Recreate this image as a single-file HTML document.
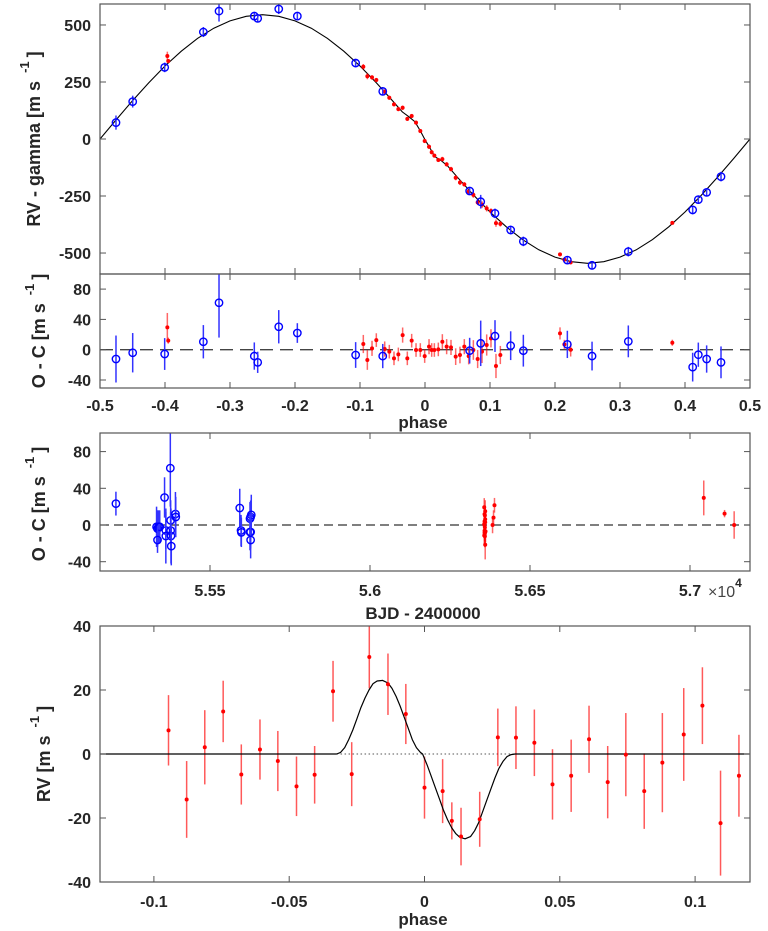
<!DOCTYPE html>
<html><head><meta charset="utf-8">
<style>
html,body{margin:0;padding:0;background:#fff;}
svg{display:block;font-family:"Liberation Sans",Arial,sans-serif;}
.tk{font-size:16px;font-weight:bold;fill:#262626;}
.lb{font-size:17px;font-weight:bold;fill:#262626;}
.yl{font-size:18px;font-weight:bold;fill:#262626;}
</style></head>
<body>
<svg id="fig" width="768" height="931" viewBox="0 0 768 931" xmlns="http://www.w3.org/2000/svg"></svg>
<script>
// ---------- Panel 1/2 data (phase-folded) ----------
const bluePhase = [-0.4754,-0.4497,-0.4005,-0.341,-0.3169,-0.2626,-0.2574,-0.225,-0.1964,-0.1067,-0.065,0.0687,0.0857,0.1077,0.1318,0.1513,0.219,0.257,0.3128,0.4118,0.4205,0.4333,0.4554];
const blueRv = [72,164,314,469,561,539,529,570,539,333,209,-228,-275,-326,-399,-449,-531,-554,-494,-311,-266,-234,-165];
const blueRes = [-12.3,-4,-5.7,10.5,62,-8.4,-16.7,30.3,22,-7,-8.4,-1.3,8.4,18,5.3,-1.3,7,-8.4,11,-23,-6.6,-12.3,-16.7];
const blueErr = [31,26,21,22,46,18,14,22,13,17,16,17,30,21,19,21,18,19,21,19,16,18,21];

const redPhase = [-0.3964,-0.395,-0.0949,-0.0887,-0.0815,-0.0749,-0.062,-0.0549,-0.0477,-0.041,-0.0344,-0.0272,-0.0205,-0.0138,-0.0072,-0.0005,0.0062,0.0103,0.0144,0.0205,0.0267,0.0333,0.04,0.0472,0.0538,0.0605,0.0672,0.0744,0.081,0.0877,0.0949,0.1015,0.1092,0.1159,0.2077,0.2144,0.2241,0.3805];
const redRv = [364,342,317,275,270,259,208,181,152,131,137,88,101,72,35,-9,-34,-58,-73,-92,-88,-111,-132,-170,-191,-199,-231,-245,-278,-288,-304,-316,-369,-372,-506,-529,-541,-368];
const redRes = [29.5,12,7.5,-13.6,1.8,12.7,0.9,-2.6,-11.4,-6.2,19.3,-11.4,11.9,-0.4,-0.4,-8.4,4,-0.4,-0.4,0.4,10.5,4,3,-9.2,-7,4,-8.4,-0.4,-12.3,-2.6,6.2,15,-21.5,-7,21.5,7,0,9.2];
const redErr = [19,4,12,13,10,9,10,9,9,9,10,9,9,9,9,9,10,9,9,9,10,10,10,11,11,10,11,13,12,15,14,12,16,12,8,6,9,4];

const modelPhase1 = [-0.5,-0.475,-0.45,-0.425,-0.4,-0.375,-0.35,-0.325,-0.3,-0.275,-0.25,-0.225,-0.2,-0.175,-0.15,-0.125,-0.1,-0.075,-0.05,-0.035,-0.025,-0.0155,-0.007,0,0.007,0.015,0.025,0.035,0.05,0.075,0.1,0.125,0.15,0.175,0.2,0.225,0.25,0.275,0.3,0.325,0.35,0.375,0.4,0.425,0.45,0.475,0.5];
const modelRv1 = [0,85,168,247,320,385,441,486,518,538,545,538,518,486,441,385,320,247,168,119,98,76,35,-3,-37,-77,-95,-119,-168,-247,-320,-385,-441,-486,-518,-538,-545,-538,-518,-486,-441,-385,-320,-247,-168,-85,0];

const phaseTicks = [-0.5,-0.4,-0.3,-0.2,-0.1,0,0.1,0.2,0.3,0.4,0.5];
const phaseTickLabels = ['-0.5','-0.4','-0.3','-0.2','-0.1','0','0.1','0.2','0.3','0.4','0.5'];
const rvTicks = [500,250,0,-250,-500];
const ocTicks = [80,40,0,-40];

// ---------- Panel 3 data (vs BJD, units of 1e4) ----------
const bjdBlue = [5.5206,5.5333,5.5336,5.5339,5.5343,5.5336,5.5358,5.5362,5.5362,5.5376,5.5377,5.5377,5.5378,5.5379,5.5392,5.5393,5.5593,5.5597,5.5598,5.5625,5.5627,5.5629,5.5625,5.5627,5.5627];
const resBlue3 = [23.3,-2,-4,-2,-2,-16.4,30,-6,-12,62,5,-6,-12,-23,12,8.7,18.5,-6,-8,7,8.7,11,-7.6,-7.6,-16.4];
const errBlue3 = [13,22,20,18,18,14,22,20,30,42,22,20,30,21,24,22,21,17,16,18,18,22,20,18,20];
const bjdRed = [5.6357,5.6357,5.6358,5.6358,5.6358,5.6359,5.6359,5.6359,5.6360,5.6360,5.6360,5.6357,5.6358,5.6359,5.6360,5.6358,5.6361,5.6383,5.6386,5.6389,5.7043,5.7108,5.7138];
const resRed3 = [19.3,-11.4,11.9,-8.4,4,10.5,-9.2,-12.3,15,-21.5,6.2,0.9,-6.2,-2.6,3,-0.4,-7,0,8,21.5,29.5,12.4,0];
const errRed3 = [10,9,9,9,10,10,11,12,12,16,14,10,9,9,10,9,12,9,8,8,19,4,15];
const bjdTicks = [5.55,5.6,5.65,5.7];
const bjdTickLabels = ['5.55','5.6','5.65','5.7'];

// ---------- Panel 4 data (RM zoom) ----------
const rmPhase = [-0.0946,-0.0879,-0.0812,-0.0744,-0.0677,-0.0608,-0.0542,-0.0473,-0.0406,-0.0338,-0.0269,-0.0204,-0.0135,-0.0069,0.0,0.0067,0.0101,0.0135,0.0204,0.0271,0.0338,0.0406,0.0473,0.0542,0.0608,0.0677,0.0744,0.0812,0.0879,0.0958,0.1027,0.1094,0.1162];
const rmRv = [7.4,-14.2,2.1,13.3,-6.4,1.4,-2.2,-10.1,-6.5,19.6,-6.3,30.3,21.8,12.5,-10.5,-11.6,-20.9,-25.8,-20.4,5.2,5.1,3.5,-9.5,-6.8,4.6,-8.8,-0.2,-11.6,-2.7,6.1,15.1,-21.6,-6.8];
const rmErr = [11,12,11.6,9.6,9.4,9.4,9.4,9.3,9,9.5,10,9.8,9.6,9.4,9.7,10,5.8,9,8.6,9,9.8,10.4,11,11.3,10.5,11.3,13,11.8,15.5,14.5,12,16.4,12.8];
const rmModelPhase = [-0.12,-0.0325,-0.031,-0.0295,-0.028,-0.0265,-0.025,-0.0235,-0.022,-0.0205,-0.019,-0.0175,-0.0155,-0.0135,-0.012,-0.0105,-0.009,-0.0075,-0.006,-0.0045,-0.003,-0.0015,-0.0007,0.001,0.0025,0.004,0.0055,0.007,0.0085,0.01,0.0115,0.013,0.015,0.017,0.0185,0.02,0.0215,0.023,0.0245,0.026,0.0275,0.029,0.0305,0.032,0.0335,0.12];
const rmModelRv = [0,0,0.5,2,4.5,7.5,11,14.5,17.5,20,22,22.8,23,22.2,20.5,18,15,11.5,8,4.5,2,0.5,0,-3.5,-7,-10.5,-14,-17.5,-20.5,-23,-24.8,-26,-26.5,-25.8,-24,-21.5,-18,-14.5,-11,-7.5,-4.5,-2.3,-0.8,-0.2,0,0];
const rmTicksX = [-0.1,-0.05,0,0.05,0.1];
const rmTickLabelsX = ['-0.1','-0.05','0','0.05','0.1'];
const rmTicksY = [40,20,0,-20,-40];

// ---------- scales ----------
const L = 100, R = 750;
function x1(p){ return L + (p + 0.5) * 650; }
function y1(v){ return 139 - v * (135 / 592); }
function y2(r){ return 349.7 - r * 0.7575; }
function x3(b){ return 210 + (b - 5.55) * 3200; }
function y3(r){ return 525 - r * 0.9175; }
function x4(p){ return 424.5 + p * 2706; }
function y4(v){ return 754 - v * 3.2; }

const NS = 'http://www.w3.org/2000/svg';
const svg = document.getElementById('fig');
function mk(tag, attrs, parent){
  const e = document.createElementNS(NS, tag);
  for (const k in attrs) e.setAttribute(k, attrs[k]);
  (parent || svg).appendChild(e);
  return e;
}
function group(name){
  const g = mk('g', {});
  
  
  return g;
}
function txt(g, x, y, s, cls, anchor, name){
  const t = mk('text', {x: x, y: y, 'class': cls, 'text-anchor': anchor || 'middle'}, g);
  t.textContent = s;
  
  
  return t;
}
function box(g, top, bot, name){
  const r = mk('rect', {x: L, y: top, width: R - L, height: bot - top, fill: 'none', stroke: '#555', 'stroke-width': 1.2}, g);
  
  
}
function xtick(g, x, top, bot){
  const a = mk('line', {x1: x, x2: x, y1: bot, y2: bot - 6, stroke: '#555', 'stroke-width': 1}, g);
  
  
  const b = mk('line', {x1: x, x2: x, y1: top, y2: top + 6, stroke: '#555', 'stroke-width': 1}, g);
  
  
}
function ytick(g, y){
  const a = mk('line', {x1: L, x2: L + 6, y1: y, y2: y, stroke: '#555', 'stroke-width': 1}, g);
  
  
  const b = mk('line', {x1: R, x2: R - 6, y1: y, y2: y, stroke: '#555', 'stroke-width': 1}, g);
  
  
}
function ylabel(g, cx, cy, main, name){
  const t = mk('text', {x: 0, y: 0, 'class': 'yl', 'text-anchor': 'middle', transform: 'translate(' + cx + ',' + cy + ') rotate(-90)'}, g);
  
  
  const a = mk('tspan', {}, t); a.textContent = main;
  const b = mk('tspan', {dx: 8, dy: -11, 'font-size': '13'}, t); b.textContent = '-1';
  const c = mk('tspan', {dx: 4, dy: 11}, t); c.textContent = ']';
}
function errbar(g, x, ya, yb, color, name){
  const l = mk('line', {x1: x, x2: x, y1: ya, y2: yb, stroke: color, 'stroke-width': 1.5}, g);
  
  
}
function circ(g, x, y, name){
  const c = mk('circle', {cx: x, cy: y, r: 3.7, fill: 'none', stroke: '#0000ff', 'stroke-width': 1.4}, g);
  
  
}
function dot(g, x, y, name){
  const c = mk('circle', {cx: x, cy: y, r: 2, fill: '#ff0000'}, g);
  
  
}
function clipRect(id, top, bot){
  const cp = mk('clipPath', {id: id});
  mk('rect', {x: L, y: top, width: R - L, height: bot - top}, cp);
}
clipRect('c1', 4, 274); clipRect('c2', 274, 388); clipRect('c3', 433, 571); clipRect('c4', 626, 882);

// ---------- Panel 1 ----------
const g1 = group('rv-phase-panel');
const g1d = mk('g', {'clip-path': 'url(#c1)'}, g1);


let d = '';
modelPhase1.forEach((p, i) => { d += (i ? 'L' : 'M') + x1(p).toFixed(1) + ',' + y1(modelRv1[i]).toFixed(1); });
const m1 = mk('path', {d: d, fill: 'none', stroke: '#000', 'stroke-width': 1.1}, g1d);


redPhase.forEach((p, i) => {
  errbar(g1d, x1(p), y1(redRv[i] + redErr[i]), y1(redRv[i] - redErr[i]), 'rgba(255,0,0,0.6)', 'red-rv-errorbar');
  dot(g1d, x1(p), y1(redRv[i]), 'red-rv-point');
});
bluePhase.forEach((p, i) => {
  errbar(g1d, x1(p), y1(blueRv[i] + blueErr[i]), y1(blueRv[i] - blueErr[i]), '#3333ff', 'blue-rv-errorbar');
  circ(g1d, x1(p), y1(blueRv[i]), 'blue-rv-point');
});
box(g1, 4, 274, 'rv-phase-axes-box');
phaseTicks.forEach(p => xtick(g1, x1(p), 4, 274));
rvTicks.forEach((v, i) => { ytick(g1, y1(v)); txt(g1, 91, y1(v) + 6, String(v), 'tk', 'end', 'rv-y-tick-label'); });
ylabel(g1, 40, 139, 'RV - gamma [m s', 'rv-y-axis-title');

// ---------- Panel 2 ----------
const g2 = group('residual-phase-panel');
const g2d = mk('g', {'clip-path': 'url(#c2)'}, g2);


const z2 = mk('line', {x1: L, x2: R, y1: y2(0), y2: y2(0), stroke: '#444', 'stroke-width': 1.3, 'stroke-dasharray': '13,7'}, g2d);


redPhase.forEach((p, i) => {
  errbar(g2d, x1(p), y2(redRes[i] + redErr[i]), y2(redRes[i] - redErr[i]), 'rgba(255,0,0,0.6)', 'red-residual-errorbar');
  dot(g2d, x1(p), y2(redRes[i]), 'red-residual-point');
});
bluePhase.forEach((p, i) => {
  errbar(g2d, x1(p), y2(blueRes[i] + blueErr[i]), y2(blueRes[i] - blueErr[i]), '#3333ff', 'blue-residual-errorbar');
  circ(g2d, x1(p), y2(blueRes[i]), 'blue-residual-point');
});
box(g2, 274, 388, 'residual-phase-axes-box');
phaseTicks.forEach((p, i) => { xtick(g2, x1(p), 274, 388); txt(g2, x1(p), 411, phaseTickLabels[i], 'tk', 'middle', 'phase-x-tick-label'); });
ocTicks.forEach(v => { ytick(g2, y2(v)); txt(g2, 91, y2(v) + 6, String(v), 'tk', 'end', 'oc-y-tick-label'); });
txt(g2, 423, 428, 'phase', 'lb', 'middle', 'phase-x-axis-title');
ylabel(g2, 45, 331, 'O - C [m s', 'oc-y-axis-title');

// ---------- Panel 3 ----------
const g3 = group('residual-time-panel');
const g3d = mk('g', {'clip-path': 'url(#c3)'}, g3);


const z3 = mk('line', {x1: L, x2: R, y1: y3(0), y2: y3(0), stroke: '#333', 'stroke-width': 1.3, 'stroke-dasharray': '9,5'}, g3d);


bjdRed.forEach((b, i) => {
  errbar(g3d, x3(b), y3(resRed3[i] + errRed3[i]), y3(resRed3[i] - errRed3[i]), 'rgba(255,0,0,0.6)', 'red-time-errorbar');
  dot(g3d, x3(b), y3(resRed3[i]), 'red-time-point');
});
bjdBlue.forEach((b, i) => {
  errbar(g3d, x3(b), y3(resBlue3[i] + errBlue3[i]), y3(resBlue3[i] - errBlue3[i]), '#3333ff', 'blue-time-errorbar');
  circ(g3d, x3(b), y3(resBlue3[i]), 'blue-time-point');
});
box(g3, 433, 571, 'residual-time-axes-box');
bjdTicks.forEach((b, i) => { xtick(g3, x3(b), 433, 571); txt(g3, x3(b), 596, bjdTickLabels[i], 'tk', 'middle', 'bjd-x-tick-label'); });
ocTicks.forEach(v => { ytick(g3, y3(v)); txt(g3, 91, y3(v) + 6, String(v), 'tk', 'end', 'oc-time-y-tick-label'); });
const ex = mk('text', {x: 708, y: 597, 'class': 'tk', 'text-anchor': 'start'}, g3);


const ex1 = mk('tspan', {'font-weight': 'normal', fill: '#444'}, ex); ex1.textContent = '×10';
const ex2 = mk('tspan', {dy: -10, 'font-size': '12'}, ex); ex2.textContent = '4';
txt(g3, 423, 619, 'BJD - 2400000', 'lb', 'middle', 'bjd-x-axis-title');
ylabel(g3, 45, 504, 'O - C [m s', 'oc-time-y-axis-title');

// ---------- Panel 4 ----------
const g4 = group('rm-panel');
const g4d = mk('g', {'clip-path': 'url(#c4)'}, g4);


const zd = mk('line', {x1: x4(rmModelPhase[1]), x2: x4(rmModelPhase[rmModelPhase.length - 2]), y1: y4(0), y2: y4(0), stroke: '#555', 'stroke-width': 1, 'stroke-dasharray': '1.5,2.5'}, g4d);


rmPhase.forEach((p, i) => {
  errbar(g4d, x4(p), y4(rmRv[i] + rmErr[i]), y4(rmRv[i] - rmErr[i]), 'rgba(255,0,0,0.65)', 'rm-errorbar');
});
let d4 = '';
rmModelPhase.forEach((p, i) => { d4 += (i ? 'L' : 'M') + x4(p).toFixed(1) + ',' + y4(rmModelRv[i]).toFixed(1); });
const m4 = mk('path', {d: d4, fill: 'none', stroke: '#000', 'stroke-width': 1.2, 'stroke-linejoin': 'round'}, g4d);


rmPhase.forEach((p, i) => { dot(g4d, x4(p), y4(rmRv[i]), 'rm-point'); });
box(g4, 626, 882, 'rm-axes-box');
rmTicksX.forEach((p, i) => { xtick(g4, x4(p), 626, 882); txt(g4, x4(p), 907, rmTickLabelsX[i], 'tk', 'middle', 'rm-x-tick-label'); });
rmTicksY.forEach(v => { ytick(g4, y4(v)); txt(g4, 91, y4(v) + 6, String(v), 'tk', 'end', 'rm-y-tick-label'); });
txt(g4, 423, 925, 'phase', 'lb', 'middle', 'rm-x-axis-title');
ylabel(g4, 50, 754, 'RV  [m s', 'rm-y-axis-title');
</script>
</body></html>
